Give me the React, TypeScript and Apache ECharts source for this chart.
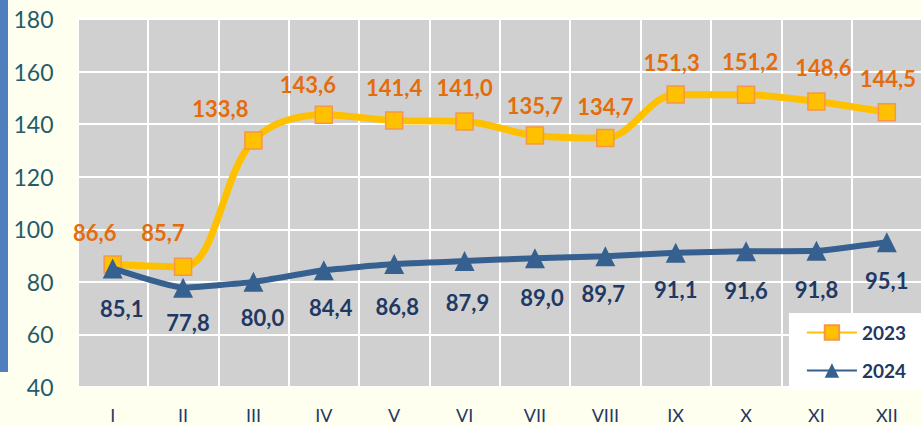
import React, { useEffect, useRef } from "react";
import * as echarts from "echarts";

const months = ["I", "II", "III", "IV", "V", "VI", "VII", "VIII", "IX", "X", "XI", "XII"];
const values2023 = [86.6, 85.7, 133.8, 143.6, 141.4, 141.0, 135.7, 134.7, 151.3, 151.2, 148.6, 144.5];
const values2024 = [85.1, 77.8, 80.0, 84.4, 86.8, 87.9, 89.0, 89.7, 91.1, 91.6, 91.8, 95.1];
const yTicks = { min: 40, max: 180, interval: 20 };

// label layout tweaks (pixel offsets), kept separate from data
const shift2023: [number, number][] = [
  [-18, 0], [-20, -2], [-33, 0], [-16, 2], [0, -1], [0, -2], [0, 2], [0, 1], [-4, 0], [4, -1], [7, -2], [1, -2],
];
const shift2024: [number, number][] = [
  [9, 3], [5, -2], [9, -1], [7, 0], [3, 6], [3, 4], [7, 2], [-2, 0], [0, 0], [0, 2], [0, 2], [0, 1],
];

const fmt = (v: number) => v.toFixed(1).replace(".", ",");
const FONT = "Lato, 'Open Sans', sans-serif";

export default function App() {
  const ref = useRef<HTMLDivElement>(null);
  useEffect(() => {
    document.body.style.margin = "0";
    const chart = echarts.init(ref.current!, null, { renderer: "svg" });
    chart.setOption({
      animation: false,
      backgroundColor: "#FFFFF0",
      textStyle: { fontFamily: FONT },
      graphic: [
        { type: "rect", left: 0, top: 0, shape: { width: 8, height: 372 }, style: { fill: "#4F7FBC" }, z: 10 },
      ],
      grid: {
        left: 77.5,
        right: 0,
        top: 19,
        bottom: 39,
        show: true,
        backgroundColor: "#D0D0D0",
        borderWidth: 0,
        containLabel: false,
      },
      legend: {
        right: 0,
        bottom: 36,
        orient: "vertical",
        backgroundColor: "#FFFFFF",
        padding: [10, 16, 10, 17],
        itemWidth: 50,
        itemHeight: 18,
        itemGap: 19,
        textStyle: { fontSize: 19, fontWeight: "bold", color: "#1F3864", fontFamily: FONT },
        data: ["2023", "2024"],
      },
      xAxis: {
        type: "category",
        data: months,
        boundaryGap: true,
        axisLine: { show: false },
        axisTick: { show: false },
        splitLine: { show: true, lineStyle: { color: "#FFFFFF", width: 2 } },
        axisLabel: { color: "#1F3864", fontSize: 18, margin: 19, fontFamily: FONT },
      },
      yAxis: {
        type: "value",
        min: yTicks.min,
        max: yTicks.max,
        interval: yTicks.interval,
        axisLine: { show: false },
        axisTick: { show: false },
        splitLine: { show: true, lineStyle: { color: "#FFFFFF", width: 2 } },
        axisLabel: { color: "#245B6A", fontSize: 23, margin: 24, fontFamily: FONT },
      },
      series: [
        {
          name: "2023",
          type: "line",
          smooth: 0.35,
          data: values2023.map((v, i) => ({
            value: v,
            label: { offset: shift2023[i] },
          })),
          symbol: "rect",
          symbolSize: 17,
          itemStyle: { color: "#FFC000", borderColor: "#F79646", borderWidth: 1.5 },
          lineStyle: { color: "#FFC000", width: 7 },
          label: {
            show: true,
            position: "top",
            distance: 12,
            formatter: (p: any) => fmt(p.value),
            color: "#E46C0A",
            fontSize: 22,
            fontWeight: "bold",
            fontFamily: FONT,
          },
          z: 2,
        },
        {
          name: "2024",
          type: "line",
          smooth: 0.15,
          data: values2024.map((v, i) => ({
            value: v,
            label: { offset: shift2024[i] },
          })),
          symbol: "triangle",
          symbolSize: 20,
          itemStyle: { color: "#35608F" },
          lineStyle: { color: "#35608F", width: 6 },
          label: {
            show: true,
            position: "bottom",
            distance: 16,
            formatter: (p: any) => fmt(p.value),
            color: "#1F3864",
            fontSize: 22,
            fontWeight: "bold",
            fontFamily: FONT,
          },
          z: 3,
        },
      ],
    });
    return () => chart.dispose();
  }, []);
  return <div ref={ref} style={{ width: 922, height: 426 }} />;
}
